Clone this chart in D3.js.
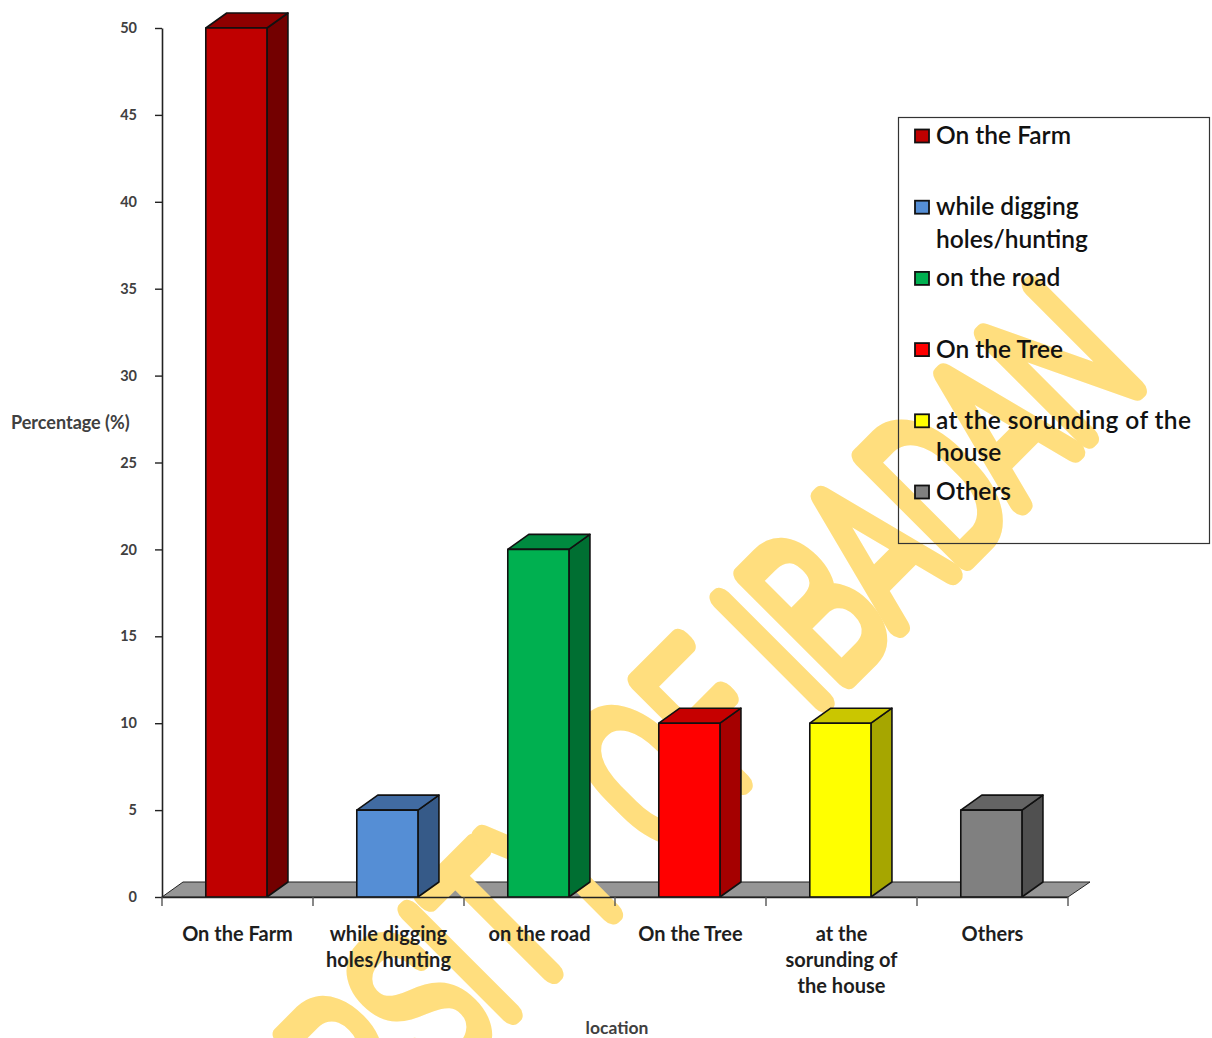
<!DOCTYPE html>
<html>
<head>
<meta charset="utf-8">
<script src="https://cdn.jsdelivr.net/npm/d3@7"></script>
<style>
  html, body { margin: 0; padding: 0; background: #fff; }
  svg { display: block; }
</style>
</head>
<body>
<svg id="chart" width="1212" height="1038"></svg>
<script>
// Location where the incident happened, percentage of respondents
const categories = [
  "On the Farm",
  "while digging holes/hunting",
  "on the road",
  "On the Tree",
  "at the sorunding of the house",
  "Others"
];
const values = [50, 5, 20, 10, 10, 5];

const axisLabelLines = [
  ["On the Farm"],
  ["while digging", "holes/hunting"],
  ["on the road"],
  ["On the Tree"],
  ["at the", "sorunding of", "the house"],
  ["Others"]
];
const legendLabelLines = [
  ["On the Farm"],
  ["while digging", "holes/hunting"],
  ["on the road"],
  ["On the Tree"],
  ["at the sorunding of the", "house"],
  ["Others"]
];

const frontColors = ["#C00000", "#558ED5", "#00B050", "#FF0000", "#FFFF00", "#808080"];
const sideColors  = ["#730000", "#365A88", "#006F32", "#A50000", "#A6A600", "#505050"];
const topColors   = ["#8E0000", "#416BA2", "#008A3F", "#C60000", "#CAC600", "#646464"];

const yTicks = [0, 5, 10, 15, 20, 25, 30, 35, 40, 45, 50];
const yTitle = "Percentage (%)";
const xTitle = "location";
const watermark = "UNIVERSITY OF IBADAN";

const svg = d3.select("#chart");
const labelFont = "Lato, 'Open Sans', 'DejaVu Sans', sans-serif";

const x = d3.scaleBand().domain(categories).range([162, 1068]).padding(0);
const y = d3.scaleLinear().domain([0, 50]).range([897, 28]);
const depth = { dx: 21, dy: -15 };

// floor of the 3-D plot area
const x0 = x.range()[0], x1 = x.range()[1], yb = y(0);
svg.append("polygon")
  .attr("points", [[x0, yb], [x1, yb], [x1 + depth.dx + 1, yb + depth.dy], [x0 + depth.dx, yb + depth.dy]].join(" "))
  .attr("fill", "#969696")
  .attr("stroke", "#222")
  .attr("stroke-width", 1);

// watermark
svg.append("text")
  .attr("transform", "translate(1146,378) rotate(-45) scale(0.69,1)")
  .attr("text-anchor", "end")
  .style("font-family", "Roboto, Lato, 'DejaVu Sans', sans-serif")
  .style("font-weight", 100)
  .style("font-size", "202px")
  .attr("fill", "#FFDE7E")
  .attr("stroke", "#FFDE7E")
  .attr("stroke-width", 21)
  .attr("stroke-linejoin", "round")
  .attr("stroke-linecap", "round")
  .attr("vector-effect", "non-scaling-stroke")
  .text(watermark);

// 3-D columns
const bw = x.bandwidth();
const bars = svg.append("g").selectAll("g")
  .data(categories.map((c, i) => ({ c, v: values[i], i })))
  .join("g");

bars.each(function(d) {
  const g = d3.select(this);
  const left = x(d.c) + bw * 0.29;
  const right = left + bw * 0.405;
  const top = y(d.v);
  const { dx, dy } = depth;
  g.append("polygon")
    .attr("points", [[right, top], [right + dx, top + dy], [right + dx, yb + dy], [right, yb]].join(" "))
    .attr("fill", sideColors[d.i]);
  g.append("polygon")
    .attr("points", [[left, top], [left + dx, top + dy], [right + dx, top + dy], [right, top]].join(" "))
    .attr("fill", topColors[d.i]);
  g.append("rect")
    .attr("x", left).attr("y", top)
    .attr("width", right - left).attr("height", yb - top)
    .attr("fill", frontColors[d.i]);
  g.selectAll("polygon, rect")
    .attr("stroke", "#111")
    .attr("stroke-width", 1.6)
    .attr("stroke-linejoin", "round");
});

// y axis
const yAxis = svg.append("g")
  .attr("transform", `translate(${x0},0)`)
  .call(d3.axisLeft(y).tickValues(yTicks).tickSize(7).tickPadding(18).tickSizeOuter(0));
yAxis.select(".domain").attr("stroke", "#222").attr("stroke-width", 1.6);
yAxis.selectAll(".tick line").attr("stroke", "#222").attr("stroke-width", 1.4);
yAxis.selectAll(".tick text")
  .style("font-family", labelFont)
  .style("font-weight", 700)
  .style("font-size", "14.5px")
  .attr("fill", "#404040");

// x axis line with ticks on category boundaries
const xAxis = svg.append("g");
xAxis.append("line")
  .attr("x1", x0 - 1).attr("x2", x1).attr("y1", yb + 0.5).attr("y2", yb + 0.5)
  .attr("stroke", "#222").attr("stroke-width", 1.6);
const bounds = categories.map(c => x(c)).concat([x1]);
xAxis.selectAll(".bt").data(bounds).join("line")
  .attr("class", "bt")
  .attr("x1", d => d).attr("x2", d => d)
  .attr("y1", yb).attr("y2", yb + 9)
  .attr("stroke", "#555").attr("stroke-width", 1.4);

// category labels
svg.append("g").selectAll("text")
  .data(categories.map((c, i) => ({ c, lines: axisLabelLines[i] })))
  .join("text")
  .attr("text-anchor", "middle")
  .style("font-family", labelFont)
  .style("font-weight", 700)
  .style("font-size", "20px")
  .attr("fill", "#1e1e1e")
  .each(function(d) {
    const t = d3.select(this);
    d.lines.forEach((ln, k) => {
      t.append("tspan")
        .attr("x", x(d.c) + bw / 2)
        .attr("y", 941 + k * 26)
        .text(ln);
    });
  });

// axis titles
svg.append("text")
  .attr("x", 11).attr("y", 429)
  .style("font-family", labelFont)
  .style("font-weight", 700)
  .style("font-size", "18px")
  .attr("fill", "#404040")
  .text(yTitle);
svg.append("text")
  .attr("x", 617).attr("y", 1034)
  .attr("text-anchor", "middle")
  .style("font-family", labelFont)
  .style("font-weight", 700)
  .style("font-size", "17.5px")
  .attr("fill", "#404040")
  .text(xTitle);

// legend
const legendWidth = 311;
const legend = svg.append("g");
legend.append("rect")
  .attr("x", 898.5).attr("y", 117.5)
  .attr("width", legendWidth).attr("height", 426)
  .attr("fill", "none")
  .attr("stroke", "#333").attr("stroke-width", 1.2);

const rows = legend.selectAll("g.row")
  .data(categories.map((c, i) => ({ c, i, lines: legendLabelLines[i] })))
  .join("g")
  .attr("class", "row")
  .attr("transform", d => `translate(0,${136 + d.i * 71.2})`);
rows.append("rect")
  .attr("x", 915).attr("y", -6.5)
  .attr("width", 14).attr("height", 13)
  .attr("fill", d => frontColors[d.i])
  .attr("stroke", "#111").attr("stroke-width", 1.8);
rows.append("text")
  .style("font-family", labelFont)
  .style("font-weight", 600)
  .style("font-size", "24.5px")
  .attr("fill", "#111")
  .each(function(d) {
    const t = d3.select(this);
    d.lines.forEach((ln, k) => {
      const span = t.append("tspan").attr("x", 936).attr("y", 8 + k * 32.5).text(ln);
      // wrapped lines are justified to the text column width
      const avail = legendWidth - 56;
      if (k < d.lines.length - 1 && span.node().getComputedTextLength() > avail * 0.8) {
        span.attr("textLength", avail).attr("lengthAdjust", "spacing");
      }
    });
  });
</script>
</body>
</html>
